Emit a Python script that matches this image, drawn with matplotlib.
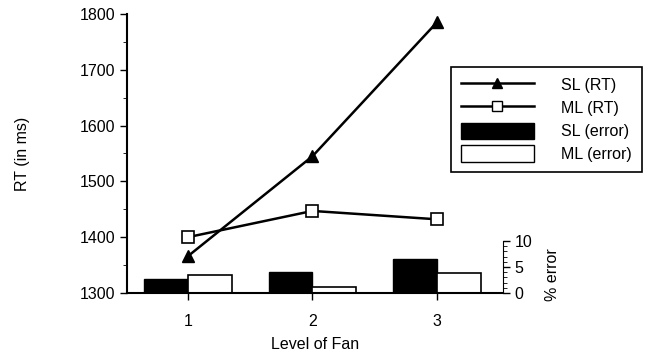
import numpy as np
import matplotlib.pyplot as plt
from matplotlib.patches import Patch
from matplotlib.lines import Line2D

plt.rcParams['font.family'] = ['Liberation Sans', 'DejaVu Sans']

fan = [1, 2, 3]
sl_rt = [1366, 1545, 1785]
ml_rt = [1400, 1447, 1432]
sl_err = [2.7, 4.0, 6.6]
ml_err = [3.5, 1.1, 3.8]

fig = plt.figure(figsize=(6.49, 3.56), dpi=100)
ax = fig.add_axes([0.196, 0.177, 0.579, 0.784])
ax2 = ax.twinx()

# error bars on the secondary axis, drawn underneath the RT lines
ax.set_zorder(2)
ax.patch.set_visible(False)
w = 0.35
x = np.array(fan)
ax2.bar(x - w / 2, sl_err, w, color='black', edgecolor='black', linewidth=1)
ax2.bar(x + w / 2, ml_err, w, color='white', edgecolor='black', linewidth=1.2)
ax2.set_ylim(0, 53.7)
ax2.spines['right'].set_bounds(0, 10)
ax2.spines['top'].set_visible(False)
ax2.spines['left'].set_visible(False)
ax2.spines['bottom'].set_visible(False)
ax2.set_yticks([0, 5, 10])
ax2.set_yticks(np.arange(0, 11, 1), minor=True)
ax2.tick_params(axis='y', direction='out', length=5, width=1, labelsize=11.5)
ax2.tick_params(axis='y', which='minor', length=3)
ax2.set_ylabel('% error', fontsize=11.5, rotation=90)
ax2.yaxis.set_label_coords(1.112, 0.065)

ax.plot(fan, sl_rt, color='black', lw=1.8, marker='^', ms=8,
        mfc='black', mec='black')
ax.plot(fan, ml_rt, color='black', lw=1.8, marker='s', ms=8,
        mfc='white', mec='black', mew=1.2)

ax.set_xlim(0.512, 3.53)
ax.set_ylim(1300, 1800)
ax.set_xticks(fan)
ax.set_yticks(np.arange(1300, 1801, 100))
ax.set_yticks(np.arange(1300, 1801, 50), minor=True)
ax.tick_params(axis='both', direction='out', length=5, width=1, labelsize=11.5)
ax.tick_params(axis='x', pad=10)
ax.tick_params(axis='y', which='minor', length=3)
ax.spines['top'].set_visible(False)
ax.spines['right'].set_visible(False)
ax.spines['left'].set_linewidth(1.5)
ax.spines['bottom'].set_linewidth(1.5)
ax.set_xlabel('Level of Fan', fontsize=11.5, labelpad=6)
ax.set_ylabel('RT (in ms)', fontsize=11.5, labelpad=36)

handles = [
    Line2D([], [], color='black', lw=1.8, marker='^', ms=7, mfc='black'),
    Line2D([], [], color='black', lw=1.8, marker='s', ms=7, mfc='white',
           mec='black'),
    Patch(facecolor='black', edgecolor='black'),
    Patch(facecolor='white', edgecolor='black'),
]
labels = ['SL (RT)', 'ML (RT)', 'SL (error)', 'ML (error)']
leg = fig.legend(handles, labels, loc='upper left',
                 bbox_to_anchor=(451 / 649, 1 - 67 / 356),
                 bbox_transform=fig.transFigure, fancybox=False,
                 edgecolor='black', framealpha=1, fontsize=11.5,
                 handlelength=4.6, handleheight=1.2, labelspacing=0.4,
                 borderpad=0.6, borderaxespad=0, handletextpad=1.7)
leg.get_frame().set_linewidth(1.2)

fig.savefig('out.png', dpi=100)
